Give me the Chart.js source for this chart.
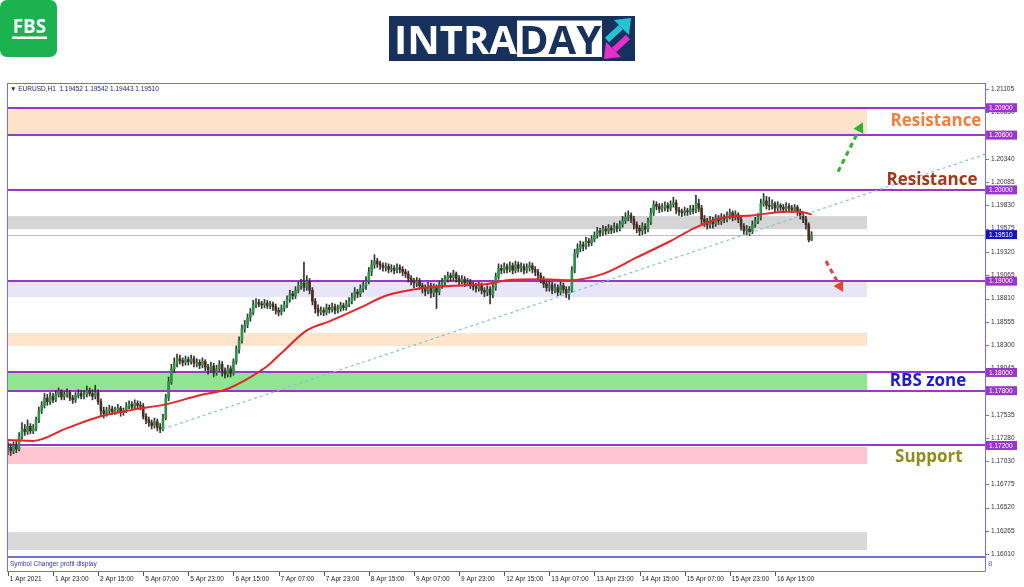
<!DOCTYPE html>
<html><head><meta charset="utf-8">
<script src="https://cdn.jsdelivr.net/npm/chart.js@4/dist/chart.umd.min.js"></script>
<style>html,body{margin:0;padding:0;background:#fff;overflow:hidden}canvas{display:block}</style>
</head><body>
<canvas id="c" width="1024" height="587"></canvas>
<script>
// ---------------- DATA ----------------
const symbolName = 'EURUSD,H1';
const opens = [
1.1722,1.1718,1.1714,1.1720,1.1716,1.1730,1.1738,1.1735,1.1741,1.1736,
1.1739,1.1748,1.1758,1.1764,1.1772,1.1768,1.1774,1.1770,1.1776,1.1779,
1.1773,1.1776,1.1778,1.1772,1.1770,1.1775,1.1777,1.1774,1.1776,1.1780,
1.1777,1.1774,1.1778,1.1768,1.1758,1.1755,1.1758,1.1760,1.1757,1.1759,
1.1761,1.1756,1.1758,1.1763,1.1765,1.1762,1.1766,1.1764,1.1763,1.1752,
1.1748,1.1745,1.1742,1.1746,1.1740,1.1738,1.1750,1.1772,1.1790,1.1804,
1.1810,1.1815,1.1813,1.1811,1.1814,1.1812,1.1815,1.1810,1.1811,1.1808,
1.1812,1.1806,1.1803,1.1807,1.1800,1.1804,1.1809,1.1802,1.1798,1.1804,
1.1799,1.1812,1.1825,1.1835,1.1848,1.1852,1.1860,1.1866,1.1874,1.1877,
1.1875,1.1874,1.1876,1.1873,1.1875,1.1872,1.1868,1.1866,1.1870,1.1874,
1.1880,1.1886,1.1884,1.1890,1.1895,1.1898,1.1893,1.1900,1.1890,1.1878,
1.1870,1.1866,1.1868,1.1866,1.1871,1.1869,1.1872,1.1868,1.1870,1.1873,
1.1871,1.1875,1.1878,1.1882,1.1888,1.1886,1.1892,1.1895,1.1900,1.1910,
1.1918,1.1922,1.1919,1.1917,1.1915,1.1916,1.1913,1.1914,1.1912,1.1915,
1.1913,1.1910,1.1908,1.1903,1.1900,1.1898,1.1900,1.1895,1.1892,1.1889,
1.1895,1.1887,1.1893,1.1888,1.1896,1.1899,1.1902,1.1906,1.1904,1.1908,
1.1903,1.1900,1.1902,1.1898,1.1899,1.1896,1.1894,1.1892,1.1895,1.1890,
1.1888,1.1891,1.1885,1.1893,1.1905,1.1914,1.1912,1.1916,1.1913,1.1917,
1.1912,1.1918,1.1914,1.1916,1.1912,1.1915,1.1917,1.1913,1.1910,1.1906,
1.1902,1.1897,1.1893,1.1896,1.1890,1.1893,1.1888,1.1895,1.1891,1.1886,
1.1890,1.1912,1.1930,1.1936,1.1940,1.1938,1.1944,1.1942,1.1946,1.1950,
1.1955,1.1953,1.1957,1.1955,1.1958,1.1956,1.1960,1.1958,1.1962,1.1966,
1.1970,1.1972,1.1968,1.1962,1.1958,1.1955,1.1960,1.1957,1.1965,1.1975,
1.1984,1.1982,1.1979,1.1981,1.1983,1.1980,1.1984,1.1986,1.1978,1.1976,
1.1975,1.1977,1.1976,1.1979,1.1978,1.1985,1.1980,1.1968,1.1965,1.1962,
1.1967,1.1963,1.1969,1.1966,1.1970,1.1968,1.1972,1.1975,1.1970,1.1973,
1.1968,1.1960,1.1955,1.1957,1.1954,1.1962,1.1966,1.1970,1.1985,1.1988,
1.1983,1.1982,1.1985,1.1980,1.1983,1.1981,1.1979,1.1982,1.1980,1.1978,
1.1981,1.1976,1.1972,1.1968,1.1962,1.19452];
const highs = [
1.1726,1.1722,1.1724,1.1725,1.1734,1.1745,1.1743,1.1748,1.1744,1.1743,
1.1751,1.1762,1.1768,1.1777,1.1776,1.1778,1.1777,1.1780,1.1783,1.1781,
1.1779,1.1782,1.1780,1.1775,1.1778,1.1781,1.1780,1.1780,1.1785,1.1783,
1.1781,1.1786,1.1781,1.1771,1.1762,1.1762,1.1764,1.1763,1.1762,1.1765,
1.1763,1.1761,1.1767,1.1769,1.1768,1.1770,1.1769,1.1768,1.1766,1.1755,
1.1751,1.1748,1.1750,1.1749,1.1744,1.1754,1.1776,1.1795,1.1809,1.1816,
1.1820,1.1819,1.1816,1.1818,1.1817,1.1819,1.1818,1.1815,1.1814,1.1816,
1.1814,1.1809,1.1811,1.1810,1.1808,1.1813,1.1812,1.1805,1.1808,1.1807,
1.1815,1.1829,1.1839,1.1852,1.1857,1.1864,1.1870,1.1879,1.1881,1.1880,
1.1878,1.1880,1.1879,1.1878,1.1877,1.1875,1.1871,1.1874,1.1878,1.1884,
1.1890,1.1889,1.1894,1.1899,1.1902,1.1921,1.1906,1.1903,1.1893,1.1881,
1.1874,1.1872,1.1871,1.1875,1.1874,1.1876,1.1875,1.1874,1.1877,1.1876,
1.1879,1.1882,1.1887,1.1893,1.1891,1.1896,1.1899,1.1905,1.1915,1.1923,
1.1929,1.1925,1.1922,1.1920,1.1920,1.1919,1.1918,1.1917,1.1919,1.1918,
1.1916,1.1913,1.1911,1.1906,1.1903,1.1904,1.1903,1.1898,1.1896,1.1899,
1.1898,1.1897,1.1896,1.1900,1.1903,1.1906,1.1910,1.1909,1.1912,1.1910,
1.1906,1.1906,1.1905,1.1903,1.1902,1.1899,1.1898,1.1899,1.1898,1.1893,
1.1895,1.1894,1.1897,1.1909,1.1919,1.1918,1.1920,1.1919,1.1921,1.1920,
1.1922,1.1921,1.1920,1.1919,1.1919,1.1921,1.1920,1.1916,1.1913,1.1909,
1.1905,1.1900,1.1900,1.1899,1.1897,1.1896,1.1899,1.1898,1.1894,1.1894,
1.1916,1.1935,1.1941,1.1944,1.1943,1.1948,1.1947,1.1950,1.1954,1.1959,
1.1958,1.1961,1.1960,1.1962,1.1961,1.1964,1.1963,1.1966,1.1971,1.1975,
1.1977,1.1975,1.1971,1.1965,1.1961,1.1964,1.1963,1.1969,1.1980,1.1988,
1.1987,1.1985,1.1985,1.1987,1.1986,1.1988,1.1992,1.1989,1.1981,1.1979,
1.1981,1.1980,1.1983,1.1983,1.1994,1.1990,1.1983,1.1972,1.1969,1.1971,
1.1970,1.1973,1.1972,1.1974,1.1973,1.1976,1.1979,1.1977,1.1977,1.1975,
1.1971,1.1963,1.1961,1.1960,1.1966,1.1970,1.1974,1.1990,1.1996,1.1993,
1.1992,1.1989,1.1987,1.1987,1.1985,1.1984,1.1986,1.1985,1.1983,1.1984,
1.1983,1.1979,1.1975,1.1971,1.1964,1.19542];
const lows = [
1.1710,1.1709,1.1711,1.1712,1.1714,1.1727,1.1731,1.1732,1.1733,1.1733,
1.1736,1.1745,1.1755,1.1761,1.1764,1.1765,1.1767,1.1768,1.1773,1.1770,
1.1770,1.1773,1.1769,1.1766,1.1767,1.1772,1.1771,1.1771,1.1773,1.1774,
1.1770,1.1771,1.1765,1.1752,1.1750,1.1752,1.1755,1.1754,1.1754,1.1756,
1.1752,1.1753,1.1756,1.1760,1.1759,1.1759,1.1761,1.1759,1.1749,1.1744,
1.1741,1.1738,1.1739,1.1736,1.1734,1.1736,1.1748,1.1769,1.1787,1.1800,
1.1806,1.1809,1.1807,1.1808,1.1808,1.1809,1.1806,1.1806,1.1804,1.1805,
1.1802,1.1798,1.1800,1.1795,1.1797,1.1801,1.1796,1.1794,1.1795,1.1795,
1.1797,1.1809,1.1821,1.1832,1.1844,1.1849,1.1856,1.1863,1.1871,1.1872,
1.1870,1.1871,1.1870,1.1870,1.1868,1.1864,1.1862,1.1863,1.1867,1.1871,
1.1877,1.1880,1.1881,1.1887,1.1891,1.1889,1.1890,1.1886,1.1874,1.1865,
1.1862,1.1863,1.1862,1.1863,1.1865,1.1866,1.1864,1.1865,1.1867,1.1868,
1.1868,1.1872,1.1875,1.1879,1.1882,1.1883,1.1888,1.1891,1.1897,1.1906,
1.1914,1.1915,1.1913,1.1911,1.1911,1.1909,1.1910,1.1908,1.1909,1.1909,
1.1906,1.1904,1.1899,1.1896,1.1893,1.1894,1.1891,1.1887,1.1884,1.1886,
1.1882,1.1883,1.1870,1.1885,1.1892,1.1895,1.1899,1.1900,1.1901,1.1899,
1.1896,1.1897,1.1894,1.1895,1.1892,1.1890,1.1888,1.1889,1.1886,1.1883,
1.1884,1.1875,1.1882,1.1890,1.1902,1.1908,1.1909,1.1909,1.1910,1.1908,
1.1909,1.1910,1.1910,1.1908,1.1909,1.1911,1.1909,1.1906,1.1902,1.1898,
1.1893,1.1889,1.1889,1.1886,1.1887,1.1884,1.1885,1.1887,1.1882,1.1880,
1.1888,1.1909,1.1926,1.1932,1.1933,1.1935,1.1938,1.1939,1.1943,1.1947,
1.1949,1.1950,1.1951,1.1952,1.1952,1.1953,1.1954,1.1955,1.1959,1.1963,
1.1966,1.1964,1.1957,1.1953,1.1950,1.1951,1.1952,1.1954,1.1962,1.1972,
1.1978,1.1975,1.1976,1.1977,1.1976,1.1977,1.1981,1.1974,1.1972,1.1971,
1.1972,1.1972,1.1973,1.1974,1.1975,1.1976,1.1963,1.1960,1.1957,1.1958,
1.1958,1.1960,1.1962,1.1962,1.1964,1.1965,1.1968,1.1966,1.1967,1.1964,
1.1956,1.1951,1.1951,1.1950,1.1952,1.1959,1.1963,1.1967,1.1982,1.1979,
1.1978,1.1979,1.1976,1.1977,1.1977,1.1975,1.1976,1.1977,1.1975,1.1976,
1.1972,1.1968,1.1964,1.1957,1.1943,1.19443];
const closes = [
1.1718,1.1714,1.1720,1.1716,1.1730,1.1738,1.1735,1.1741,1.1736,1.1739,
1.1748,1.1758,1.1764,1.1772,1.1768,1.1774,1.1770,1.1776,1.1779,1.1773,
1.1776,1.1778,1.1772,1.1770,1.1775,1.1777,1.1774,1.1776,1.1780,1.1777,
1.1774,1.1778,1.1768,1.1758,1.1755,1.1758,1.1760,1.1757,1.1759,1.1761,
1.1756,1.1758,1.1763,1.1765,1.1762,1.1766,1.1764,1.1763,1.1752,1.1748,
1.1745,1.1742,1.1746,1.1740,1.1738,1.1750,1.1772,1.1790,1.1804,1.1810,
1.1815,1.1813,1.1811,1.1814,1.1812,1.1815,1.1810,1.1811,1.1808,1.1812,
1.1806,1.1803,1.1807,1.1800,1.1804,1.1809,1.1802,1.1798,1.1804,1.1799,
1.1812,1.1825,1.1835,1.1848,1.1852,1.1860,1.1866,1.1874,1.1877,1.1875,
1.1874,1.1876,1.1873,1.1875,1.1872,1.1868,1.1866,1.1870,1.1874,1.1880,
1.1886,1.1884,1.1890,1.1895,1.1898,1.1893,1.1900,1.1890,1.1878,1.1870,
1.1866,1.1868,1.1866,1.1871,1.1869,1.1872,1.1868,1.1870,1.1873,1.1871,
1.1875,1.1878,1.1882,1.1888,1.1886,1.1892,1.1895,1.1900,1.1910,1.1918,
1.1922,1.1919,1.1917,1.1915,1.1916,1.1913,1.1914,1.1912,1.1915,1.1913,
1.1910,1.1908,1.1903,1.1900,1.1898,1.1900,1.1895,1.1892,1.1889,1.1895,
1.1887,1.1893,1.1888,1.1896,1.1899,1.1902,1.1906,1.1904,1.1908,1.1903,
1.1900,1.1902,1.1898,1.1899,1.1896,1.1894,1.1892,1.1895,1.1890,1.1888,
1.1891,1.1885,1.1893,1.1905,1.1914,1.1912,1.1916,1.1913,1.1917,1.1912,
1.1918,1.1914,1.1916,1.1912,1.1915,1.1917,1.1913,1.1910,1.1906,1.1902,
1.1897,1.1893,1.1896,1.1890,1.1893,1.1888,1.1895,1.1891,1.1886,1.1890,
1.1912,1.1930,1.1936,1.1940,1.1938,1.1944,1.1942,1.1946,1.1950,1.1955,
1.1953,1.1957,1.1955,1.1958,1.1956,1.1960,1.1958,1.1962,1.1966,1.1970,
1.1972,1.1968,1.1962,1.1958,1.1955,1.1960,1.1957,1.1965,1.1975,1.1984,
1.1982,1.1979,1.1981,1.1983,1.1980,1.1984,1.1986,1.1978,1.1976,1.1975,
1.1977,1.1976,1.1979,1.1978,1.1985,1.1980,1.1968,1.1965,1.1962,1.1967,
1.1963,1.1969,1.1966,1.1970,1.1968,1.1972,1.1975,1.1970,1.1973,1.1968,
1.1960,1.1955,1.1957,1.1954,1.1962,1.1966,1.1970,1.1985,1.1988,1.1983,
1.1982,1.1985,1.1980,1.1983,1.1981,1.1979,1.1982,1.1980,1.1978,1.1981,
1.1976,1.1972,1.1968,1.1962,1.19452,1.19510];

// moving average (red line), read at sample bars
const maIdx  = [0,9,21,33,44,56,68,77,85,92,98,106,114,125,134,146,158,170,177,189,199,211,223,235,244,253,264,276,281,285];
const maVals = [1.1726,1.1725,1.1739,1.1752,1.1759,1.1765,1.1775,1.1781,1.1793,1.1807,1.1824,1.1846,1.1856,1.1871,1.1884,1.1892,1.1895,1.1897,1.1901,1.1902,1.1901,1.1908,1.1926,1.1944,1.1959,1.1969,1.1972,1.1976,1.1976,1.1973];

// dotted trend line
const trendIdx  = [55, 346.5];
const trendVals = [1.1738, 1.2039];

// x-axis tick labels (bar index of each label)
const xTickIdx = [0,16,32,48,64,80,96,112,128,144,160,176,192,208,224,240,256,272];
const xTickLabels = ['1 Apr 2021','1 Apr 23:00','2 Apr 15:00','5 Apr 07:00','5 Apr 23:00','6 Apr 15:00','7 Apr 07:00','7 Apr 23:00','8 Apr 15:00','9 Apr 07:00','9 Apr 23:00','12 Apr 15:00','13 Apr 07:00','13 Apr 23:00','14 Apr 15:00','15 Apr 07:00','15 Apr 23:00','16 Apr 15:00'];
// y-axis tick labels
const yTickVals = [1.21105,1.20850,1.20595,1.20340,1.20085,1.19830,1.19575,1.19320,1.19065,1.18810,1.18555,1.18300,1.18045,1.17790,1.17535,1.17280,1.17030,1.16775,1.16520,1.16265,1.16010];

// horizontal levels & zones (prices)
const levelLines = [1.2090,1.2060,1.2000,1.1900,1.1800,1.1780,1.1720];
const zoneHigh = [1.2090,1.19713,1.1900,1.18432,1.1800,1.17183,1.16251];
const zoneLow  = [1.2060,1.19571,1.18826,1.18289,1.1780,1.16996,1.16054];
const zoneEndIdx = 304.7;

// annotations
const noteTexts  = ['Resistance','Resistance','RBS zone','Support'];
const noteIdx    = [329.1,327.7,326.3,326.6];
const notePrices = [1.2075,1.2011,1.1790,1.1707];
const greenArrow = [294.4,1.2020,303.2,1.2074];
const redArrow   = [290.1,1.1922,296.2,1.1888];

// ---------------- STYLE ----------------
const zoneColors = ['#fde3c8','#d5d5d5','#e6e6f8','#fde4ca','#90e690','#ffc6d0','#d9d9d9'];
const noteColors = ['#f47d3b','#a2381b','#1c1ccf','#8e8e1e'];
const FRAME = '#7272d8', PURPLE = '#9a35cf';
const SMALL = '"Liberation Sans", Arial, "DejaVu Sans", sans-serif';
const BULL = '#2d9447', BEAR = '#4f2a22', WICK = '#333333';

const N = closes.length;
const bodies = [], wicks = [], bodyColors = [];
for (let i = 0; i < N; i++) {
  bodies.push({x: i, y: [opens[i], closes[i]]});
  wicks.push({x: i, y: [lows[i], highs[i]]});
  bodyColors.push(closes[i] >= opens[i] ? BULL : BEAR);
}
const maData = maIdx.map((v, i) => ({x: v, y: maVals[i]}));
const trendData = trendIdx.map((v, i) => ({x: v, y: trendVals[i]}));

function drawArrow(ctx, x1, y1, x2, y2, color) {
  const a = Math.atan2(y2 - y1, x2 - x1), hl = 10, hw = 5.5;
  const bx = x2 - hl * Math.cos(a), by = y2 - hl * Math.sin(a);
  ctx.save();
  ctx.strokeStyle = color; ctx.lineWidth = 3; ctx.setLineDash([5, 4]);
  ctx.beginPath(); ctx.moveTo(x1, y1); ctx.lineTo(bx, by); ctx.stroke();
  ctx.setLineDash([]); ctx.fillStyle = color;
  ctx.beginPath(); ctx.moveTo(x2, y2);
  ctx.lineTo(bx + hw * Math.sin(a), by - hw * Math.cos(a));
  ctx.lineTo(bx - hw * Math.sin(a), by + hw * Math.cos(a));
  ctx.closePath(); ctx.fill();
  ctx.restore();
}

const overlay = {
  id: 'overlay',
  beforeDatasetsDraw(c) {
    const {ctx, chartArea: ca, scales: {x: xs, y: ys}} = c;
    const X = v => xs.getPixelForValue(v), Y = v => ys.getPixelForValue(v);
    ctx.save();
    const xe = X(zoneEndIdx);
    zoneHigh.forEach((h, i) => {
      const y1 = Y(h), y2 = Y(zoneLow[i]);
      ctx.fillStyle = zoneColors[i];
      ctx.fillRect(ca.left + 1, y1, xe - ca.left - 1, y2 - y1);
    });
    const yp = Math.round(Y(closes[N - 1])) + 0.5;
    ctx.strokeStyle = '#bdbdbd'; ctx.lineWidth = 1;
    ctx.beginPath(); ctx.moveTo(ca.left, yp); ctx.lineTo(ca.right, yp); ctx.stroke();
    ctx.strokeStyle = PURPLE; ctx.lineWidth = 2;
    levelLines.forEach(v => {
      const y = Math.round(Y(v));
      ctx.beginPath(); ctx.moveTo(ca.left, y); ctx.lineTo(ca.right, y); ctx.stroke();
    });
    ctx.restore();
  },
  afterDatasetsDraw(c) {
    const {ctx, scales: {x: xs, y: ys}} = c;
    const X = v => xs.getPixelForValue(v), Y = v => ys.getPixelForValue(v);
    drawArrow(ctx, X(greenArrow[0]), Y(greenArrow[1]), X(greenArrow[2]), Y(greenArrow[3]), '#33b033');
    drawArrow(ctx, X(redArrow[0]), Y(redArrow[1]), X(redArrow[2]), Y(redArrow[3]), '#e5403a');
    ctx.save();
    ctx.font = 'bold 17px "Open Sans", sans-serif';
    ctx.textAlign = 'center'; ctx.textBaseline = 'middle';
    noteTexts.forEach((t, i) => {
      ctx.fillStyle = noteColors[i];
      ctx.fillText(t, X(noteIdx[i]), Y(notePrices[i]));
    });
    ctx.restore();
  },
  afterDraw(c) {
    const {ctx, chartArea: ca, scales: {x: xs, y: ys}} = c;
    const Y = v => ys.getPixelForValue(v);
    ctx.save();
    // frame
    ctx.strokeStyle = FRAME; ctx.lineWidth = 1;
    ctx.beginPath();
    ctx.moveTo(ca.left + 0.5, ca.top); ctx.lineTo(ca.left + 0.5, 571.5);
    ctx.moveTo(ca.left, ca.top + 0.5); ctx.lineTo(ca.right, ca.top + 0.5);
    ctx.moveTo(ca.right + 0.5, ca.top); ctx.lineTo(ca.right + 0.5, 571.5);
    ctx.moveTo(ca.left, 571.5); ctx.lineTo(ca.right, 571.5);
    ctx.stroke();
    ctx.lineWidth = 2;
    ctx.beginPath(); ctx.moveTo(ca.left, 557); ctx.lineTo(ca.right, 557); ctx.stroke();
    // y tick marks
    ctx.lineWidth = 1;
    ys.ticks.forEach(t => {
      const y = Math.round(Y(t.value)) + 0.5;
      ctx.beginPath(); ctx.moveTo(ca.right, y); ctx.lineTo(ca.right + 4, y); ctx.stroke();
    });
    // x tick marks
    ctx.strokeStyle = '#555';
    xs.ticks.forEach(t => {
      const x = Math.round(xs.getPixelForValue(t.value)) + 0.5;
      ctx.beginPath(); ctx.moveTo(x, 572); ctx.lineTo(x, 576); ctx.stroke();
    });
    // highlighted price labels
    ctx.font = '6.5px ' + SMALL; ctx.textBaseline = 'middle'; ctx.textAlign = 'left';
    levelLines.forEach(v => {
      const y = Y(v);
      ctx.fillStyle = PURPLE; ctx.fillRect(ca.right + 1, y - 4.5, 31, 9);
      ctx.fillStyle = '#fff'; ctx.fillText(v.toFixed(5), ca.right + 4, y + 0.5);
    });
    const cp = closes[N - 1], yc = Y(cp);
    ctx.fillStyle = '#1414c4'; ctx.fillRect(ca.right + 1, yc - 4.5, 31, 9);
    ctx.fillStyle = '#fff'; ctx.fillText(cp.toFixed(5), ca.right + 4, yc + 0.5);
    // header inside chart
    ctx.fillStyle = '#1e1e70';
    ctx.fillText('\u25BC ' + symbolName + '  ' + [opens[N-1], highs[N-1], lows[N-1], closes[N-1]].map(v => v.toFixed(5)).join(' '), ca.left + 3, 89.5);
    ctx.fillStyle = '#3535a5';
    ctx.fillText('Symbol Changer profit display', ca.left + 3, 564);
    ctx.fillStyle = FRAME; ctx.font = '8px ' + SMALL;
    ctx.fillText('8', ca.right + 3, 564);
    // FBS logo
    ctx.fillStyle = '#1cb24f';
    ctx.beginPath(); ctx.roundRect(0, 0, 57, 57, 7); ctx.fill();
    ctx.fillStyle = '#fff'; ctx.font = 'bold 19px "Open Sans", sans-serif';
    ctx.textAlign = 'center'; ctx.textBaseline = 'alphabetic';
    ctx.fillText('FBS', 29.5, 33);
    ctx.fillRect(12, 36.5, 35, 2.5);
    // INTRADAY logo
    ctx.fillStyle = '#17305c'; ctx.fillRect(389, 16, 246, 45);
    ctx.fillStyle = '#fff'; ctx.fillRect(517, 20.5, 85, 36.5);
    ctx.font = 'bold 40px "Open Sans", sans-serif'; ctx.textAlign = 'left';
    ctx.fillText('INTRA', 394, 53.5);
    ctx.fillStyle = '#17305c';
    ctx.fillText('DAY', 519, 53.5);
    ctx.lineCap = 'butt';
    ctx.strokeStyle = '#24c3d4'; ctx.fillStyle = '#24c3d4'; ctx.lineWidth = 6;
    ctx.beginPath(); ctx.moveTo(607, 40); ctx.lineTo(621, 27); ctx.stroke();
    ctx.beginPath(); ctx.moveTo(631, 18); ctx.lineTo(614, 20); ctx.lineTo(629, 35); ctx.closePath(); ctx.fill();
    ctx.strokeStyle = '#e52fc8'; ctx.fillStyle = '#e52fc8';
    ctx.beginPath(); ctx.moveTo(628, 37); ctx.lineTo(614, 50); ctx.stroke();
    ctx.beginPath(); ctx.moveTo(604, 59); ctx.lineTo(606, 42); ctx.lineTo(621, 57); ctx.closePath(); ctx.fill();
    ctx.restore();
  }
};

new Chart(document.getElementById('c'), {
  type: 'bar',
  data: {
    datasets: [
      {type: 'line', data: maData, borderColor: '#e2262a', borderWidth: 2, pointRadius: 0, cubicInterpolationMode: 'monotone', order: 0},
      {type: 'line', data: trendData, borderColor: '#82c4d6', borderWidth: 1.2, borderDash: [3, 3], pointRadius: 0, order: 1},
      {type: 'bar', data: bodies, backgroundColor: bodyColors, barThickness: 2, minBarLength: 1, grouped: false, order: 2},
      {type: 'bar', data: wicks, backgroundColor: WICK, barThickness: 1, grouped: false, order: 3}
    ]
  },
  options: {
    responsive: false, animation: false, devicePixelRatio: 1,
    layout: {padding: {left: 7, top: 83, right: 0, bottom: 0}},
    plugins: {legend: {display: false}, tooltip: {enabled: false}},
    scales: {
      x: {
        type: 'linear', min: -0.3, max: 346.5, offset: false,
        grid: {display: false, drawTicks: false, offset: false}, border: {display: false},
        afterBuildTicks: s => { s.ticks = xTickIdx.map(v => ({value: v})); },
        afterFit: s => { s.height = 32; s.paddingLeft = 0; s.paddingRight = 0; },
        ticks: {autoSkip: false, maxRotation: 0, minRotation: 0, align: 'start', labelOffset: 2, padding: 20,
          color: '#222', font: {family: SMALL, size: 6.5},
          callback: (v, i) => xTickLabels[i]}
      },
      y: {
        type: 'linear', position: 'right', min: 1.16, max: 1.21171, beginAtZero: false,
        grid: {display: false, drawTicks: false}, border: {display: false},
        afterBuildTicks: s => { s.ticks = yTickVals.map(v => ({value: v})); },
        afterFit: s => { s.width = 39; s.paddingTop = 0; s.paddingBottom = 0; },
        ticks: {autoSkip: false, padding: 6, color: '#333', font: {family: SMALL, size: 6.5},
          callback: v => v.toFixed(5)}
      }
    }
  },
  plugins: [overlay]
});
</script>
</body></html>
